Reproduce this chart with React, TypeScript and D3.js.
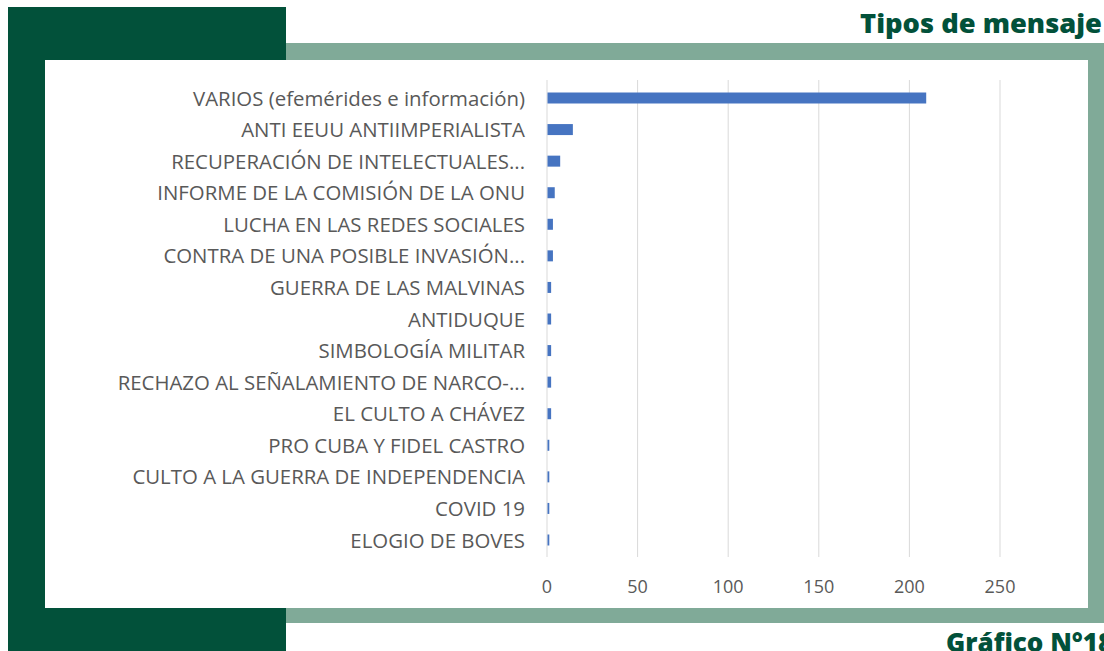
import React from "react";
import * as d3 from "d3";

const categories = [
  "VARIOS (efemérides e información)",
  "ANTI EEUU ANTIIMPERIALISTA",
  "RECUPERACIÓN DE INTELECTUALES...",
  "INFORME DE LA COMISIÓN DE LA ONU",
  "LUCHA EN LAS REDES SOCIALES",
  "CONTRA DE UNA POSIBLE INVASIÓN...",
  "GUERRA DE LAS MALVINAS",
  "ANTIDUQUE",
  "SIMBOLOGÍA MILITAR",
  "RECHAZO AL SEÑALAMIENTO DE NARCO-...",
  "EL CULTO A CHÁVEZ",
  "PRO CUBA Y FIDEL CASTRO",
  "CULTO A LA GUERRA DE INDEPENDENCIA",
  "COVID 19",
  "ELOGIO DE BOVES",
];
const values = [209, 14, 7, 4, 3, 3, 2, 2, 2, 2, 2, 1, 1, 1, 1];
const ticks = [0, 50, 100, 150, 200, 250];
const title = "Tipos de mensaje";
const footer = "Gráfico N°18";

const DARK = "#02513a";
const LIGHT = "#80aa98";
const BAR = "#4674c1";
const TEXT = "#595959";
const GRID = "#d9d9d9";

export default function App() {
  const W = 1104;
  const H = 651;
  const x = d3.scaleLinear().domain([0, 250]).range([547, 1000]);
  const y = d3.scalePoint<string>().domain(categories).range([98, 540]);
  const barH = 11;
  const gridTop = 80;
  const gridBottom = 557;

  return (
    <svg
      width={W}
      height={H}
      style={{ position: "absolute", left: 0, top: 0, display: "block" }}
    >
      <rect x={0} y={0} width={W} height={H} fill="#ffffff" />
      <rect x={45} y={43} width={W - 45} height={623 - 43} fill={LIGHT} />
      <rect x={8} y={7} width={286 - 8} height={H - 7} fill={DARK} />
      <rect x={45} y={60} width={1088 - 45} height={608 - 60} fill="#ffffff" />

      {ticks.map((t) => (
        <line
          key={"g" + t}
          x1={x(t)}
          x2={x(t)}
          y1={gridTop}
          y2={gridBottom}
          stroke={GRID}
          strokeWidth={1}
        />
      ))}

      {categories.map((c, i) => (
        <rect
          key={"b" + i}
          x={x(0) + 0.5}
          y={(y(c) as number) - barH / 2}
          width={Math.max(x(values[i]) - x(0), 1.5)}
          height={barH}
          fill={BAR}
        />
      ))}

      {categories.map((c, i) => (
        <text
          key={"l" + i}
          x={525}
          y={(y(c) as number) + 7.5}
          textAnchor="end"
          fill={TEXT}
          fontFamily="'Open Sans', sans-serif"
          fontSize={20.4}
        >
          {c}
        </text>
      ))}

      {ticks.map((t) => (
        <text
          key={"t" + t}
          x={x(t)}
          y={593}
          textAnchor="middle"
          fill={TEXT}
          fontFamily="'Open Sans', sans-serif"
          fontSize={18}
        >
          {t}
        </text>
      ))}

      <text
        x={860}
        y={33}
        fill={DARK}
        fontFamily="'Open Sans', sans-serif"
        fontWeight={800}
        fontSize={26}
        textLength={242}
        lengthAdjust="spacingAndGlyphs"
      >
        {title}
      </text>
      <text
        x={946}
        y={652}
        fill={DARK}
        fontFamily="'Open Sans', sans-serif"
        fontWeight={800}
        fontSize={26}
      >
        {footer}
      </text>
    </svg>
  );
}
